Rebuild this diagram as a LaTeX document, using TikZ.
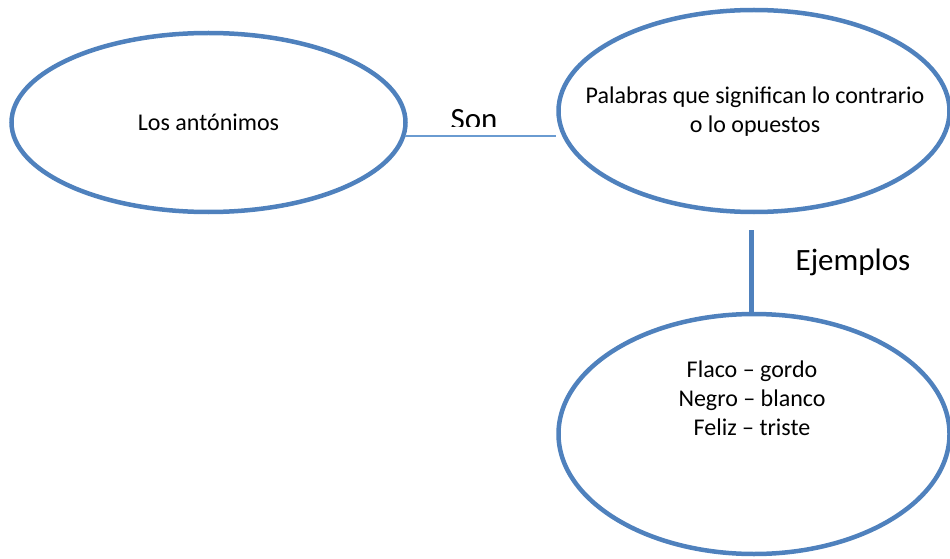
\documentclass[tikz,border=0pt]{standalone}
\usepackage{fontspec}
\setmainfont{Carlito}
\usetikzlibrary{shapes.geometric}
\definecolor{ofblue}{HTML}{4F81BD}
\definecolor{lnblue}{HTML}{6A9BD1}
\begin{document}
\begin{tikzpicture}[x=1pt,y=-1pt,
  bubble/.style={ellipse,draw=ofblue,line width=4.5pt,inner sep=0pt},
  words/.style={align=center,inner sep=0pt,font=\fontsize{24}{29}\selectfont},
  tag/.style={anchor=base,font=\fontsize{31}{36}\selectfont},
  link/.style={draw=lnblue,line width=1.8pt},
  stem/.style={draw=ofblue,line width=5pt}]
  \useasboundingbox (0,0) rectangle (950,559);
  \node[bubble,minimum width=394pt,minimum height=179pt] (ant) at (208.5,122.5) {};
  \node[bubble,minimum width=391pt,minimum height=202pt] (pal) at (754,111) {};
  \node[bubble,minimum width=391pt,minimum height=240pt] (ej) at (754,434) {};
  \node[words] (antt) at (ant) {Los antónimos};
  \node[words] (palt) at (755,112) {Palabras que significan lo contrario\\o lo opuestos};
  \node[words] (pares) at (752,398) {Flaco – gordo\\Negro – blanco\\Feliz – triste};
  % Son, cut off at the bottom
  \begin{scope}
    \clip (420,95) rectangle (530,127);
    \node[tag] (son) at (474,130) {Son};
  \end{scope}
  \node[tag] (ejem) at (853,270) {Ejemplos};
  \draw[link] (ant.-4) -- (ant.-4 -| pal.west);
  \coordinate (stemtop) at (751,230);
  \draw[stem] (stemtop) -- (stemtop |- ej.north);
\end{tikzpicture}
\end{document}
